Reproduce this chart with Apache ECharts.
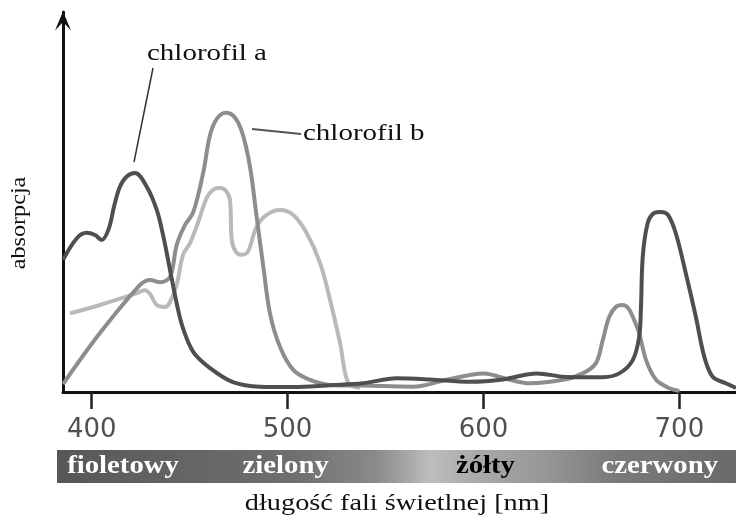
<!DOCTYPE html>
<html>
<head>
<meta charset="utf-8">
<script src="https://cdn.jsdelivr.net/npm/echarts@6/dist/echarts.min.js"></script>
<style>
html,body{margin:0;padding:0;background:#fff;}
#chart{width:736px;height:521px;}
</style>
</head>
<body>
<div id="chart"></div>
<script>
// Wavelength tick labels (nm)
const tickValues = [400, 500, 600, 700];

// Chlorophyll a
const chlA_nm = [385.4, 392.3, 397.4, 401.7, 405.1, 408.6, 411.5, 414.4, 417.9, 422.1, 428.1, 433.2, 436.6, 440, 443.4, 446.6, 451.9, 460.4, 472.1, 485.9, 502.8, 521.7, 538.5, 555.7, 572.7, 593.1, 610, 627.2, 640.6, 647.2, 660.9, 669.3, 676.2, 679.5, 680.4, 681.3, 683.8, 687.1, 690.6, 694.2, 698.2, 703.3, 708.4, 712.7, 717, 723.7, 728.9];
const chlA_abs = [34.8, 40.4, 41.9, 41.3, 40.0, 42.8, 49.0, 54.0, 56.7, 57.6, 54.0, 47.9, 40.9, 32.1, 23.3, 16.8, 10.5, 6.3, 2.6, 1.4, 1.3, 1.8, 2.3, 3.6, 3.3, 2.7, 3.3, 4.9, 4.0, 3.9, 3.9, 4.9, 8.4, 14.6, 22.4, 35.6, 44.4, 47.1, 47.4, 46.6, 41.7, 31.2, 19.8, 9.3, 4.0, 2.3, 1.1];

// Chlorophyll b
const chlB_nm = [385.4, 404.2, 424.7, 429.8, 434.9, 440, 443.4, 447.6, 451.9, 457, 460.4, 464, 468.5, 473, 477, 480.8, 484.2, 487.6, 491, 496.1, 502.9, 511.4, 523.2, 538.5, 564, 581.2, 600, 613.5, 623.8, 640.6, 650.7, 657.4, 660.9, 664.2, 667.6, 671.1, 673.8, 676.2, 679.5, 683, 688.1, 694.9, 700];
const chlB_abs = [2.1, 15.5, 28.2, 29.5, 28.9, 30.3, 38.7, 43.9, 47.4, 57.9, 67.6, 72.0, 73.5, 72.3, 68.0, 59.3, 46.1, 33.0, 20.7, 11.9, 5.8, 3.2, 1.8, 1.7, 1.4, 3.2, 4.9, 3.2, 2.3, 3.2, 4.9, 7.6, 13.7, 19.8, 22.4, 22.9, 22.1, 19.8, 15.4, 8.4, 3.2, 1.0, 0.3];

// Carotenoids (light curve)
const car_nm = [388.9, 404.2, 423, 427.2, 429.8, 433.2, 437.4, 440, 443.4, 446.6, 450.2, 453.8, 458.9, 462.4, 465.5, 468.6, 470.6, 471.5, 473.7, 476.6, 479.3, 480.8, 484.2, 489.3, 496.1, 502.9, 509.8, 516.6, 521.7, 526.8, 531, 537];
const car_abs = [20.7, 22.9, 26.0, 26.8, 25.8, 22.9, 22.4, 23.7, 28.2, 36.1, 39.2, 43.9, 51.3, 53.4, 53.7, 52.9, 50.5, 40.0, 36.8, 36.1, 36.6, 38.2, 43.5, 46.6, 47.9, 46.6, 41.8, 33.9, 24.2, 12.8, 2.3, 1.1];

// Colour band labels
const bandLabels = ['fioletowy', 'zielony', 'żółty', 'czerwony'];
const bandLabelNm = [416, 499, 601, 690];

const zip = (xs, ys) => xs.map((x, i) => [x, ys[i]]);

const chart = echarts.init(document.getElementById('chart'), null, {renderer: 'canvas'});

const serif = 'Liberation Serif';
function txt(x, y, s, opts) {
  opts = opts || {};
  return {
    type: 'text', x: x, y: y, z: 100,
    scaleX: opts.sx || 1.25, rotation: opts.rot || 0,
    style: {
      text: s, x: 0, y: 0,
      fontFamily: serif, fontSize: opts.size || 23, fontWeight: opts.bold ? 'bold' : 'normal',
      fill: opts.fill || '#111',
      textAlign: opts.align || 'center', textVerticalAlign: 'middle'
    }
  };
}

const option = {
  animation: false,
  backgroundColor: '#fff',
  grid: {left: 63, right: 0, top: 12, bottom: 129, containLabel: false},
  xAxis: {
    type: 'value', min: 385.35, max: 728.9,
    axisLine: {show: true, onZero: false, lineStyle: {color: '#111', width: 3}},
    axisTick: {show: true, length: 17, customValues: tickValues, lineStyle: {color: '#222', width: 2.5}},
    axisLabel: {show: true, customValues: tickValues, margin: 25, fontFamily: 'DejaVu Sans', fontSize: 26, color: '#505050'},
    splitLine: {show: false}
  },
  yAxis: {
    type: 'value', min: 0, max: 100,
    axisLine: {show: true, symbol: ['none', 'path://M0,20 L8.5,0 L17,20 L8.5,11 Z'], symbolSize: [16, 20], symbolOffset: [0, -9], lineStyle: {color: '#111', width: 3}},
    axisTick: {show: false}, axisLabel: {show: false}, splitLine: {show: false}
  },
  series: [
    {type: 'line', name: 'karotenoidy', data: zip(car_nm, car_abs), smooth: 0.35, showSymbol: false,
     lineStyle: {color: '#b9b9b9', width: 4}, z: 2},
    {type: 'line', name: 'chlorofil b', data: zip(chlB_nm, chlB_abs), smooth: 0.35, showSymbol: false,
     lineStyle: {color: '#8d8d8d', width: 4}, z: 3},
    {type: 'line', name: 'chlorofil a', data: zip(chlA_nm, chlA_abs), smooth: 0.35, showSymbol: false,
     lineStyle: {color: '#4f4f4f', width: 4}, z: 4}
  ],
  graphic: []
};
chart.setOption(option);

// Colour band below the axis
const g = [];
g.push({
  type: 'rect', z: 10,
  shape: {x: 57, y: 450, width: 679, height: 33},
  style: {
    fill: new echarts.graphic.LinearGradient(0, 0, 1, 0, [
      {offset: 0, color: '#575757'},
      {offset: 0.18, color: '#646464'},
      {offset: 0.35, color: '#6f6f6f'},
      {offset: 0.47, color: '#8a8a8a'},
      {offset: 0.55, color: '#bdbdbd'},
      {offset: 0.62, color: '#a9a9a9'},
      {offset: 0.72, color: '#979797'},
      {offset: 0.82, color: '#7a7a7a'},
      {offset: 1, color: '#6a6a6a'}
    ])
  }
});
bandLabels.forEach((s, i) => {
  const px = chart.convertToPixel({gridIndex: 0}, [bandLabelNm[i], 0])[0];
  g.push(txt(px, 467, s, {bold: true, fill: s === 'żółty' ? '#000' : '#fff', size: 25, sx: 1.15}));
});
// Axis titles
g.push(txt(397, 504, 'długość fali świetlnej [nm]', {size: 24, sx: 1.18}));
g.push(txt(19, 223, 'absorpcja', {size: 22, sx: 1.1, rot: Math.PI / 2}));
// Curve labels with leader lines
g.push(txt(147, 54, 'chlorofil a', {align: 'left', sx: 1.26}));
g.push({type: 'line', z: 50, shape: {x1: 153, y1: 68, x2: 134, y2: 162}, style: {stroke: '#333', lineWidth: 1.5}});
g.push(txt(303, 134, 'chlorofil b', {align: 'left', sx: 1.26}));
g.push({type: 'line', z: 50, shape: {x1: 252, y1: 129, x2: 301, y2: 134}, style: {stroke: '#555', lineWidth: 2}});

chart.setOption({graphic: g});
</script>
</body>
</html>
